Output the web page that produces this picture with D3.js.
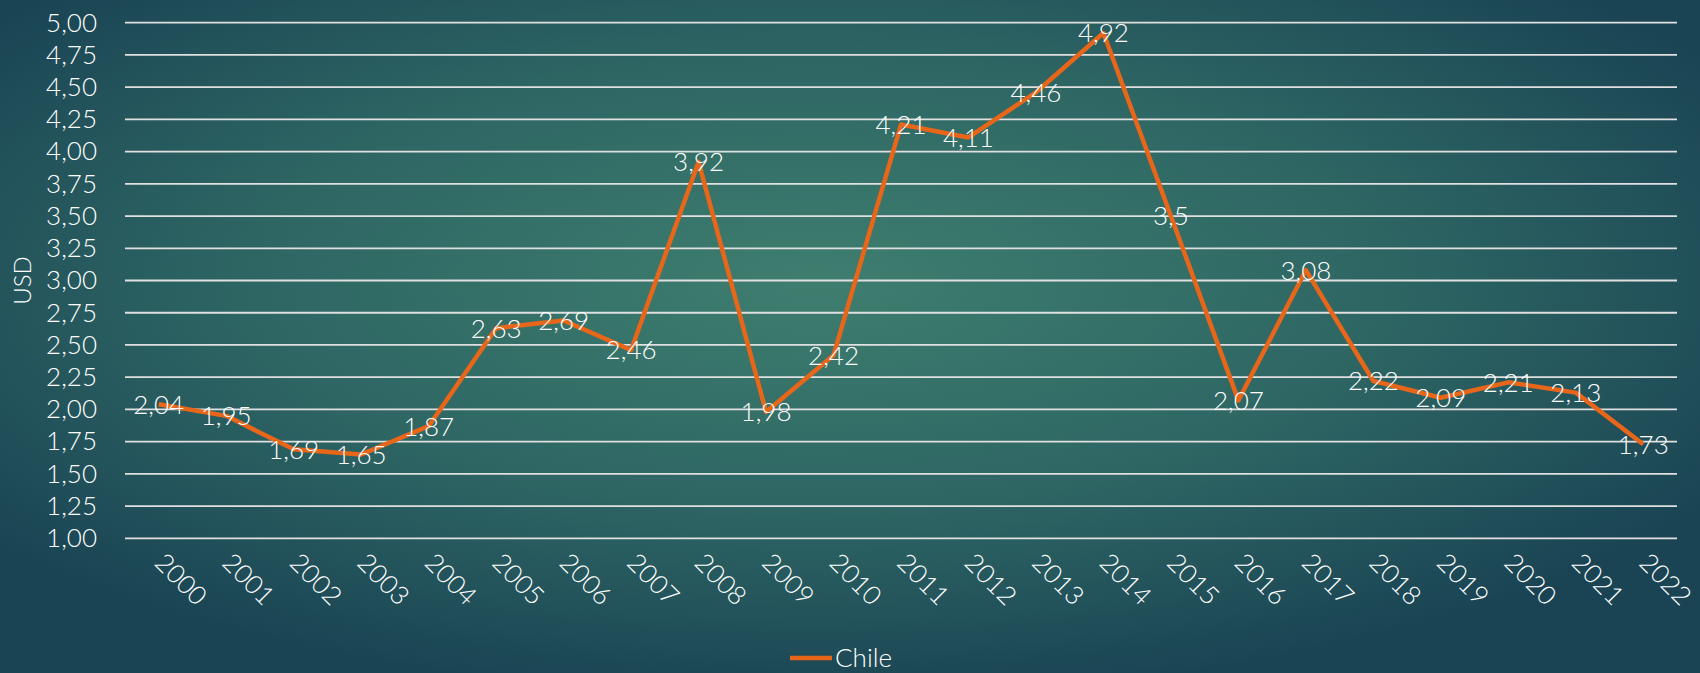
<!DOCTYPE html>
<html lang="es">
  <head>
    <meta charset="UTF-8" />
    <title>Chile USD</title>
    <style>
      body {
        margin: 0;
        background: #1d4a57;
      }
      svg text {
        font-family: "Lato", "Open Sans", sans-serif;
        font-weight: 300;
        fill: #ffffff;
      }
    </style>
  </head>
  <body>
    <svg id="chart" width="1700" height="673"></svg>
    <script src="https://cdn.jsdelivr.net/npm/d3@7"></script>
    <script>
      // data
      const years = ["2000", "2001", "2002", "2003", "2004", "2005", "2006", "2007", "2008", "2009", "2010", "2011",
        "2012", "2013", "2014", "2015", "2016", "2017", "2018", "2019", "2020", "2021", "2022"];
      const chile = [2.04, 1.95, 1.69, 1.65, 1.87, 2.63, 2.69, 2.46, 3.92, 1.98, 2.42, 4.21,
        4.11, 4.46, 4.92, 3.5, 2.07, 3.08, 2.22, 2.09, 2.21, 2.13, 1.73];
      const yTicks = [1, 1.25, 1.5, 1.75, 2, 2.25, 2.5, 2.75, 3, 3.25, 3.5, 3.75, 4, 4.25, 4.5, 4.75, 5];
      const seriesName = "Chile";

      const svg = d3.select("#chart");
      const W = 1700, H = 673;

      // background
      const defs = svg.append("defs");
      const grad = defs.append("radialGradient")
        .attr("id", "bg")
        .attr("cx", "48%").attr("cy", "42%").attr("r", "62%");
      grad.append("stop").attr("offset", "0%").attr("stop-color", "#3e7e6f");
      grad.append("stop").attr("offset", "55%").attr("stop-color", "#2d6563");
      grad.append("stop").attr("offset", "100%").attr("stop-color", "#1a4454");
      svg.append("rect").attr("width", W).attr("height", H).attr("fill", "url(#bg)");

      const plot = { left: 125, right: 1677, top: 22.7, bottom: 538.3 };

      const x = d3.scalePoint().domain(years).range([plot.left, plot.right]).padding(0.5);
      const y = d3.scaleLinear().domain([1, 5]).range([plot.bottom, plot.top]);
      const fmt = (v) => String(v).replace(".", ",");
      const fmt2 = (v) => d3.format(".2f")(v).replace(".", ",");

      // gridlines
      svg.append("g")
        .selectAll("line")
        .data(yTicks)
        .join("line")
        .attr("x1", plot.left)
        .attr("x2", plot.right)
        .attr("y1", (d) => y(d))
        .attr("y2", (d) => y(d))
        .attr("stroke", "#e0e0e0")
        .attr("stroke-width", 1.8);

      // y axis labels
      const yAxis = d3.axisLeft(y).tickValues(yTicks).tickFormat(fmt2).tickSize(0).tickPadding(0);
      const gy = svg.append("g").attr("transform", `translate(${plot.left - 28},0)`).call(yAxis);
      gy.select(".domain").remove();
      gy.selectAll("text").attr("font-size", 26).attr("fill", "#fff")
        .attr("font-family", "Lato, sans-serif").attr("font-weight", 300);

      // x axis labels
      const xAxis = d3.axisBottom(x).tickSize(0).tickPadding(0);
      const gx = svg.append("g").attr("transform", `translate(0,${plot.bottom})`).call(xAxis);
      gx.select(".domain").remove();
      gx.selectAll("text")
        .attr("font-size", 26)
        .attr("fill", "#fff")
        .attr("font-family", "Lato, sans-serif")
        .attr("font-weight", 300)
        .attr("text-anchor", "start")
        .attr("dy", null)
        .attr("y", 0)
        .attr("transform", "translate(-6,26) rotate(45)");

      // y axis title
      svg.append("text")
        .attr("transform", `translate(31,${(plot.top + plot.bottom) / 2}) rotate(-90)`)
        .attr("text-anchor", "middle")
        .attr("font-size", 24)
        .text("USD");

      // line
      const line = d3.line().x((d, i) => x(years[i])).y((d) => y(d));
      svg.append("path")
        .datum(chile)
        .attr("d", line)
        .attr("fill", "none")
        .attr("stroke", "#e8661a")
        .attr("stroke-width", 4.5)
        .attr("stroke-linejoin", "round");

      // data labels
      svg.append("g")
        .selectAll("text")
        .data(chile)
        .join("text")
        .attr("x", (d, i) => x(years[i]))
        .attr("y", (d) => y(d))
        .attr("dy", "0.36em")
        .attr("text-anchor", "middle")
        .attr("font-size", 26)
        .text(fmt);

      // legend
      const lg = svg.append("g").attr("transform", "translate(790,658)");
      lg.append("line").attr("x1", 0).attr("x2", 42).attr("stroke", "#e8661a").attr("stroke-width", 4.5);
      lg.append("text").attr("x", 45).attr("dy", "0.36em").attr("font-size", 26).text(seriesName);
    </script>
  </body>
</html>
